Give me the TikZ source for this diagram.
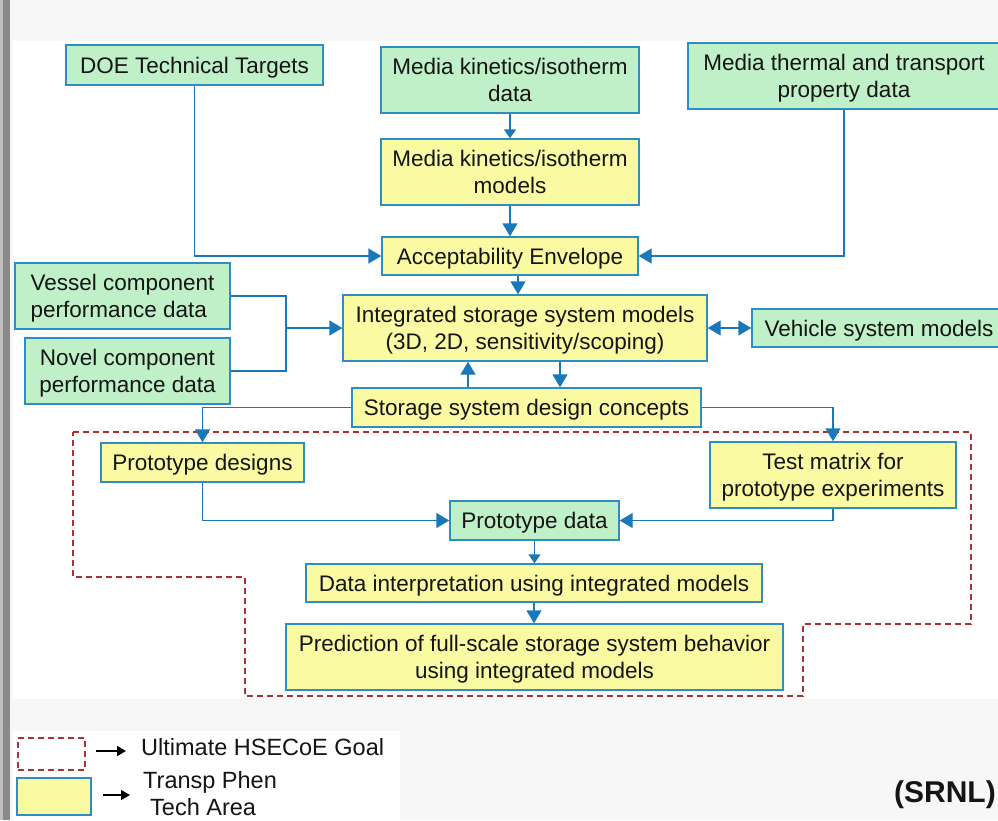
\documentclass[tikz,border=0pt]{standalone}
\usepackage{fontspec}
\setmainfont{Liberation Sans}
\usetikzlibrary{arrows.meta,calc}
\definecolor{gfill}{HTML}{C0F0C8}
\definecolor{yfill}{HTML}{FAFAA2}
\definecolor{bord}{HTML}{2F8DC4}
\definecolor{arrc}{HTML}{1A78B8}
\definecolor{dred}{HTML}{A83238}
\definecolor{bggray}{HTML}{F7F7F7}
\definecolor{txt}{HTML}{151515}
\tikzset{
  box/.style={draw=bord,line width=1.4pt,inner sep=0pt,align=center,text=txt,text depth=0pt,
    font=\fontsize{22.5}{27.5}\selectfont},
  gbox/.style={box,fill=gfill},
  ybox/.style={box,fill=yfill},
  conn/.style={draw=arrc,line width=1.4pt},
  arr/.style={conn,-{Triangle[length=13pt,width=15pt]}},
  sarr/.style={conn,-{Triangle[length=9pt,width=12pt]}},
  goal/.style={draw=dred,line width=1.3pt,dash pattern=on 6pt off 4pt},
  legtext/.style={font=\fontsize{23.5}{27}\selectfont,text=txt,anchor=west,inner sep=0pt,align=left}
}
\begin{document}
\begin{tikzpicture}[x=1pt,y=-1pt]
\useasboundingbox (0,0) rectangle (998,820);
% background
\fill[bggray] (0,0) rectangle (998,820);
\fill[white] (13,41) rectangle (998,699);
\fill[white] (13,731) rectangle (400,820);
\fill[black!25] (0,0) rectangle (3,820);
\fill[black!46] (3,0) rectangle (10,820);
% goal outline
\draw[goal] (73,432) -- (971,432) -- (971,624) -- (803,624) -- (803,696) -- (245,696) -- (245,577) -- (73,577) -- cycle;
% nodes
\node[gbox,minimum width=257,minimum height=40] (DOE) at (194.5,65) {DOE Technical Targets};
\node[gbox,minimum width=258,minimum height=66] (MKD) at (510,80) {Media kinetics/isotherm\\data};
\node[ybox,minimum width=258,minimum height=66] (MKM) at (510,172) {Media kinetics/isotherm\\models};
\node[ybox,minimum width=256,minimum height=38] (ACC) at (510,256) {Acceptability Envelope};
\node[gbox,minimum width=312,minimum height=66] (MTT) at (844,76) {Media thermal and transport\\property data};
\node[gbox,minimum width=215,minimum height=66,align=left] (VES) at (122.5,296) {Vessel component\\performance data};
\node[gbox,minimum width=205,minimum height=66] (NOV) at (127.5,371) {Novel component\\performance data};
\node[ybox,minimum width=364,minimum height=66] (INT) at (525,328) {Integrated storage system models\\(3D, 2D, sensitivity/scoping)};
\node[gbox,minimum width=254,minimum height=38] (VEH) at (879,328) {Vehicle system models};
\node[ybox,minimum width=349,minimum height=39] (SSD) at (526.5,407.5) {Storage system design concepts};
\node[ybox,minimum width=203,minimum height=39] (PD) at (202.5,462.5) {Prototype designs};
\node[ybox,minimum width=246,minimum height=66] (TM) at (833,475) {Test matrix for\\prototype experiments};
\node[gbox,minimum width=169,minimum height=39] (PDA) at (534.5,520.5) {Prototype data};
\node[ybox,minimum width=456,minimum height=38] (DI) at (534,583) {Data interpretation using integrated models};
\node[ybox,minimum width=497,minimum height=66] (PR) at (534.5,657) {Prediction of full-scale storage system behavior\\using integrated models};
% connectors
\draw[arr] (DOE.south) |- (ACC.west);
\draw[sarr] (MKD.south) -- (MKM.north);
\draw[arr] (MKM.south) -- (ACC.north);
\draw[arr] (MTT.south) |- (ACC.east);
\draw[arr] ([xshift=8pt]ACC.south) -- ([xshift=8pt]ACC.south |- INT.north);
\coordinate (J) at (286,328);
\draw[conn] (VES.east) -| (J) |- (NOV.east);
\draw[arr] (J) -- (INT.west);
\draw[conn,{Triangle[length=13pt,width=15pt]}-{Triangle[length=13pt,width=15pt]}] (INT.east) -- (VEH.west);
\draw[arr] ([xshift=-58.5pt]SSD.north) -- ([xshift=-58.5pt]SSD.north |- INT.south);
\draw[arr] ([xshift=35pt]INT.south) -- ([xshift=35pt]INT.south |- SSD.north);
\draw[arr] (SSD.west) -| (PD.north);
\draw[arr] (SSD.east) -| (TM.north);
\draw[arr] (PD.south) |- (PDA.west);
\draw[arr] (TM.south) |- (PDA.east);
\draw[sarr] (PDA.south) -- (PDA.south |- DI.north);
\draw[arr] (DI.south) -- (DI.south |- PR.north);
% legend
\node[draw=dred,line width=1.3pt,dash pattern=on 6pt off 4pt,minimum width=67,minimum height=32,inner sep=0pt] (LG) at (51.5,754) {};
\node[draw=bord,line width=1.4pt,fill=yfill,minimum width=74,minimum height=37,inner sep=0pt] (LY) at (54,796.5) {};
\node[legtext] (LT1) at (141,747) {Ultimate HSECoE Goal};
\node[legtext] (LT2) at (143,794) {Transp Phen\\\hspace*{7pt}Tech Area};
\coordinate (A1s) at (96,751);
\coordinate (A1e) at (126,751);
\coordinate (A2s) at (103,795);
\coordinate (A2e) at (130,795);
\draw[line width=1.6pt,-{Triangle[length=9pt,width=10pt]}] (A1s) -- (A1e);
\draw[line width=1.6pt,-{Triangle[length=9pt,width=10pt]}] (A2s) -- (A2e);
\node[font=\bfseries\fontsize{30}{34}\selectfont,text=txt,anchor=east,inner sep=0pt] (SRNL) at (996,795) {(SRNL)};
\end{tikzpicture}
\end{document}
